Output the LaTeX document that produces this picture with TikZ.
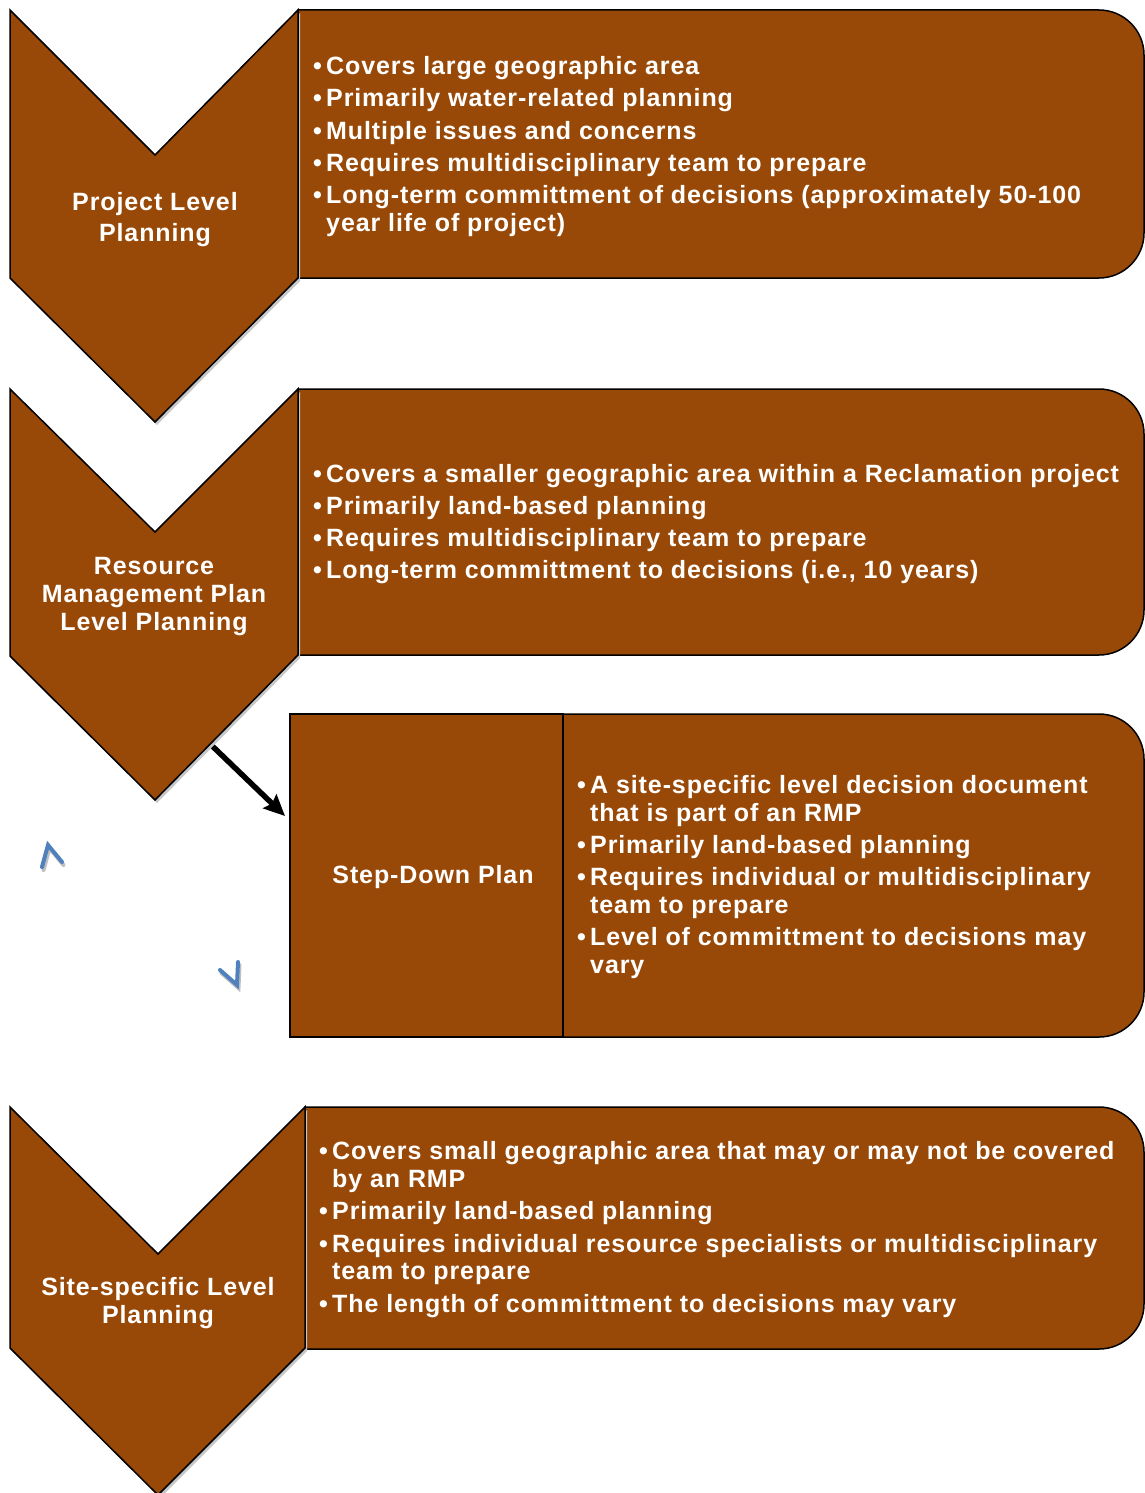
\documentclass[tikz,border=0pt]{standalone}
\usepackage{fontspec}
\setmainfont{Liberation Sans}[LetterSpace=3.6]
\usetikzlibrary{arrows.meta}
\definecolor{brownfill}{RGB}{153,73,7}
\definecolor{markblue}{RGB}{79,129,189}
\newcommand\bitem[1]{\makebox[13pt][l]{•}#1}
\newcommand\bcont{\hspace*{13pt}}
\tikzset{
  shapefill/.style={fill=brownfill, draw=black, line width=1.5pt, line join=miter},
  chevshadow/.style={fill=black!22, draw=none},
  lbl/.style={text=white, font=\fontsize{25}{28}\selectfont\bfseries, align=center, inner sep=0pt},
  lst/.style={text=white, font=\fontsize{25}{27.8}\selectfont\bfseries, align=left, inner sep=0pt, anchor=west},
  blmark/.style={draw=markblue, line width=4pt, line cap=round, line join=miter},
  blshadow/.style={draw=black!25, line width=4pt, line cap=round, line join=miter},
  conn/.style={line width=5.5pt, -{Stealth[length=21pt,width=19pt,inset=3pt]}}
}
\newcommand\rbox[4]{% x1 y1 x2 y2, rounded right corners r=45
  \path[shapefill] (#1,#2) -- ({#3-45},#2) .. controls ({#3-20.2},#2) and (#3,{#2+20.2}) .. (#3,{#2+45})
    -- (#3,{#4-45}) .. controls (#3,{#4-20.2}) and ({#3-20.2},#4) .. ({#3-45},#4) -- (#1,#4) -- cycle;}
\begin{document}
\begin{tikzpicture}[x=1pt,y=-1pt]
\useasboundingbox (0,0) rectangle (1145,1493);
% connector (drawn under the chevron)
\coordinate (arrS) at (205,739);
\coordinate (arrE) at (285,816);
\draw[conn] (arrS) -- (arrE);
% boxes
\rbox{298}{10}{1144}{278}
\rbox{298}{389}{1144}{655}
\rbox{563}{714}{1144}{1037}
\rbox{305}{1107}{1144}{1349}
\path[shapefill] (290,714) rectangle (563,1037);
% chevron shadows
\path[chevshadow] (12,13) -- (157,158) -- (300,13) -- (300,281) -- (157,425) -- (12,281) -- cycle;
\path[chevshadow] (12,392) -- (157,535) -- (300,392) -- (300,658) -- (157,803) -- (12,659) -- cycle;
\path[chevshadow] (12,1110) -- (160,1257) -- (307,1110) -- (307,1351) -- (160,1498) -- (12,1351) -- cycle;
% chevrons
\path[shapefill] (10,10) -- (155,155) -- (298,10) -- (298,278) -- (155,422) -- (10,278) -- cycle;
\path[shapefill] (10,389) -- (155,532) -- (298,389) -- (298,655) -- (155,800) -- (10,656) -- cycle;
\path[shapefill] (10,1107) -- (158,1254) -- (305,1107) -- (305,1348) -- (158,1495) -- (10,1348) -- cycle;
% blue marks
\draw[blshadow] (43.5,870) -- (49.5,848) -- (63.5,865);
\draw[blmark] (42,867) -- (48,845) -- (62,862);
\draw[blshadow] (221.5,973) -- (238.5,988) -- (239.5,965);
\draw[blmark] (220,970) -- (237,985) -- (238,962);
% labels
\node[lbl, font=\fontsize{25}{31}\selectfont\bfseries] (l1) at (155,219.5) {Project Level\\Planning};
\node[lbl] (l2) at (154,596.5) {Resource\\Management Plan\\Level Planning};
\node[lbl] (l3) at (433,877) {Step-Down Plan};
\node[lbl] (l4) at (158,1303) {Site-specific Level\\Planning};
% lists
\node[lst] (t1) at (313,146.5) {\bitem{Covers large geographic area}\\[4.4pt]
\bitem{Primarily water-related planning}\\[4.4pt]
\bitem{Multiple issues and concerns}\\[4.4pt]
\bitem{Requires multidisciplinary team to prepare}\\[4.4pt]
\bitem{Long-term committment of decisions (approximately 50-100}\\
\bcont year life of project)};
\node[lst] (t2) at (313,524) {\bitem{Covers a smaller geographic area within a Reclamation project}\\[4.4pt]
\bitem{Primarily land-based planning}\\[4.4pt]
\bitem{Requires multidisciplinary team to prepare}\\[4.4pt]
\bitem{Long-term committment to decisions (i.e., 10 years)}};
\node[lst] (t3) at (577,877) {\bitem{A site-specific level decision document}\\
\bcont that is part of an RMP\\[4.4pt]
\bitem{Primarily land-based planning}\\[4.4pt]
\bitem{Requires individual or multidisciplinary}\\
\bcont team to prepare\\[4.4pt]
\bitem{Level of committment to decisions may}\\
\bcont vary};
\node[lst] (t4) at (319,1229.5) {\bitem{Covers small geographic area that may or may not be covered}\\
\bcont by an RMP\\[4.4pt]
\bitem{Primarily land-based planning}\\[4.4pt]
\bitem{Requires individual resource specialists or multidisciplinary}\\
\bcont team to prepare\\[4.4pt]
\bitem{The length of committment to decisions may vary}};
\end{tikzpicture}
\end{document}
